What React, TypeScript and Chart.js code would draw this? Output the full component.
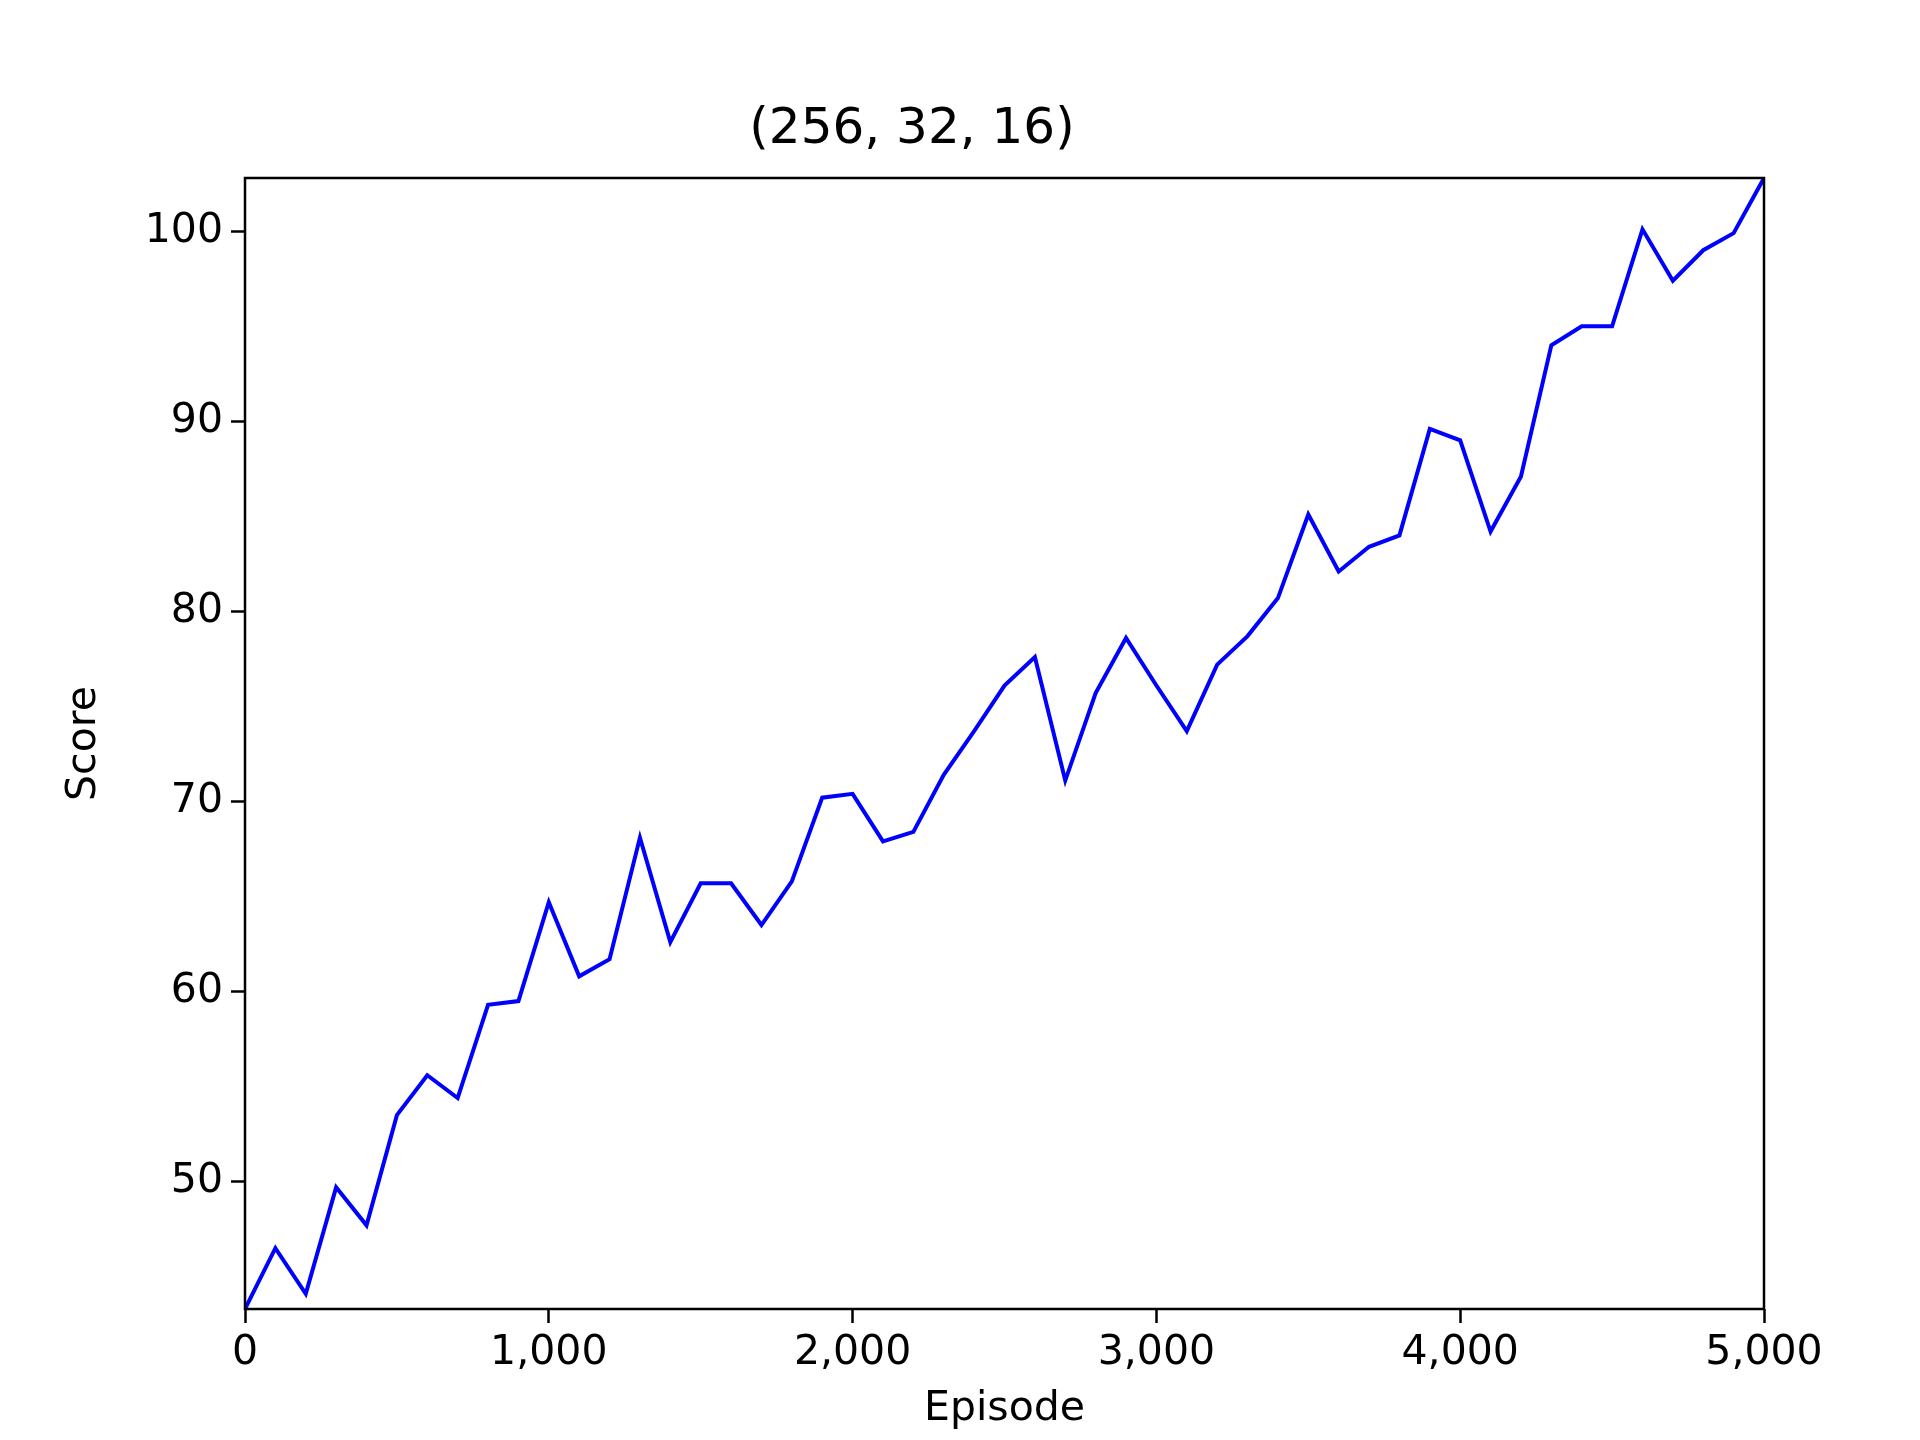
import React, { useEffect, useRef } from 'react';
import Chart from 'chart.js/auto';

const episodes = Array.from({ length: 51 }, (_, i) => i * 100);
const scores = [
  43.3, 46.5, 44.1, 49.7, 47.7, 53.5, 55.6, 54.4, 59.3, 59.5,
  64.7, 60.8, 61.7, 68.1, 62.6, 65.7, 65.7, 63.5, 65.8, 70.2,
  70.4, 67.9, 68.4, 71.4, 73.7, 76.1, 77.6, 71.1, 75.7, 78.6,
  76.1, 73.7, 77.2, 78.7, 80.7, 85.1, 82.1, 83.4, 84.0, 89.6,
  89.0, 84.2, 87.1, 94.0, 95.0, 95.0, 100.1, 97.4, 99.0, 99.9,
  102.8,
];
const titleText = '(256, 32, 16)';

const font = 'DejaVu Sans';

const frame = {
  id: 'frame',
  afterDraw(chart: any) {
    const { ctx, chartArea: a } = chart;
    ctx.save();
    ctx.strokeStyle = '#000';
    ctx.lineWidth = 2.5;
    ctx.strokeRect(a.left, a.top, a.right - a.left, a.bottom - a.top);
    ctx.restore();
  },
};

const App: React.FC = () => {
  const ref = useRef<HTMLCanvasElement>(null);

  useEffect(() => {
    document.body.style.margin = '0';
    if (!ref.current) return;
    const chart = new Chart(ref.current, {
      type: 'line',
      data: {
        datasets: [{
          data: episodes.map((x, i) => ({ x, y: scores[i] })),
          borderColor: '#0000ff',
          borderWidth: 4,
          pointRadius: 0,
          tension: 0,
        }],
      },
      options: {
        animation: false,
        responsive: false,
        devicePixelRatio: 1,
        layout: { padding: { top: 100, right: 156, left: 60, bottom: 0 } },
        plugins: {
          legend: { display: false },
          tooltip: { enabled: false },
          title: {
            display: true,
            text: titleText,
            color: '#000',
            font: { family: font, size: 50, weight: 'normal' },
            padding: { top: 0, bottom: 18 },
          },
        },
        scales: {
          x: {
            type: 'linear',
            min: 0,
            max: 5000,
            ticks: { stepSize: 1000, color: '#000', font: { family: font, size: 41 }, padding: 6, maxRotation: 0 },
            grid: { drawOnChartArea: false, tickLength: 14, tickWidth: 2.5, tickColor: '#000' },
            border: { display: false },
            title: { display: true, text: 'Episode', color: '#000', font: { family: font, size: 41 }, padding: { top: 0, bottom: 6 } },
            afterFit: (s: any) => { s.height = 131; },
          },
          y: {
            min: 43.3,
            max: 102.8,
            afterBuildTicks: (s: any) => { s.ticks = [50, 60, 70, 80, 90, 100].map(v => ({ value: v })); },
            ticks: { color: '#000', font: { family: font, size: 41 }, padding: 8 },
            grid: { drawOnChartArea: false, tickLength: 14, tickWidth: 2.5, tickColor: '#000' },
            border: { display: false },
            title: { display: true, text: 'Score', color: '#000', font: { family: font, size: 41 }, padding: { top: 0, bottom: 0 } },
            afterFit: (s: any) => { s.width = 185; },
          },
        },
      },
      plugins: [frame],
    } as any);
    return () => chart.destroy();
  }, []);

  return (
    <div style={{ width: 1920, height: 1440, background: '#fff' }}>
      <canvas ref={ref} width={1920} height={1440} />
    </div>
  );
};

export default App;
